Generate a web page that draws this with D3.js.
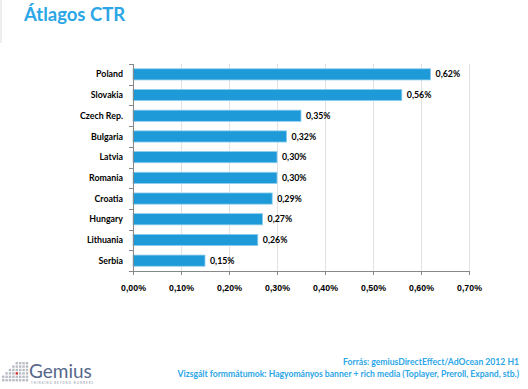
<!DOCTYPE html>
<html>
<head>
<meta charset="utf-8">
<script src="https://cdn.jsdelivr.net/npm/d3@7"></script>
<style>
  body { margin: 0; background: #fff; }
  svg { font-family: Lato, "Open Sans", sans-serif; }
  .axis path, .axis line { stroke: #888; shape-rendering: crispEdges; }
  .axis text { font-size: 8.8px; font-weight: bold; fill: #000; }
  .grid line { stroke: #e2e2e2; shape-rendering: crispEdges; }
</style>
</head>
<body>
<svg id="chart"></svg>
<script>
var countries = ["Poland", "Slovakia", "Czech Rep.", "Bulgaria", "Latvia", "Romania", "Croatia", "Hungary", "Lithuania", "Serbia"];
var ctr = [0.62, 0.56, 0.35, 0.32, 0.30, 0.30, 0.29, 0.27, 0.26, 0.15];
var xTicks = [0, 0.1, 0.2, 0.3, 0.4, 0.5, 0.6, 0.7];
var footnotes = ["Forrás: gemiusDirectEffect/AdOcean 2012 H1",
                 "Vizsgált formmátumok: Hagyományos banner + rich media (Toplayer, Preroll, Expand, stb.)"];

var width = 528, height = 389;
var margin = { top: 64, left: 133, right: 59, bottom: 118 };
var fmt = function(v) { return d3.format(".2f")(v).replace(".", ",") + "%"; };

var svg = d3.select("#chart").attr("width", width).attr("height", height);

// faint page edge
svg.append("line").attr("x1", 1).attr("x2", 1).attr("y1", 0).attr("y2", 43)
    .attr("stroke", "#eee").attr("stroke-width", 2);

svg.append("text")
    .attr("x", 24).attr("y", 21)
    .attr("font-size", 18.5).attr("font-weight", "bold")
    .attr("fill", "#2ba6e6")
    .text("Átlagos CTR");

var x = d3.scaleLinear().domain([0, 0.7]).range([margin.left, width - margin.right]);
var y = d3.scaleBand().domain(countries)
    .range([margin.top, height - margin.bottom])
    .paddingInner(0.46).paddingOuter(0.23);

// gridlines
svg.append("g").attr("class", "grid")
  .selectAll("line").data(xTicks.slice(1))
  .enter().append("line")
    .attr("x1", function(d) { return Math.round(x(d)) + 0.5; })
    .attr("x2", function(d) { return Math.round(x(d)) + 0.5; })
    .attr("y1", margin.top).attr("y2", height - margin.bottom);

var data = countries.map(function(c, i) { return { name: c, value: ctr[i] }; });

svg.append("g").selectAll("rect").data(data)
  .enter().append("rect")
    .attr("x", x(0))
    .attr("y", function(d) { return y(d.name); })
    .attr("width", function(d) { return x(d.value) - x(0); })
    .attr("height", y.bandwidth())
    .attr("fill", "#1e9ad8")
    .attr("stroke", "#8fcdee").attr("stroke-width", 0.8);

svg.append("g").selectAll("text").data(data)
  .enter().append("text")
    .attr("x", function(d) { return x(d.value) + 5; })
    .attr("y", function(d) { return y(d.name) + y.bandwidth() / 2; })
    .attr("dy", "0.35em")
    .attr("font-size", 8.8).attr("font-weight", "bold")
    .text(function(d) { return fmt(d.value); });

// x axis
svg.append("g").attr("class", "axis")
    .attr("transform", "translate(0," + (height - margin.bottom) + ")")
    .call(d3.axisBottom(x).tickValues(xTicks).tickFormat(fmt).tickSize(4).tickPadding(10));

// y axis: tick marks between categories
var yAxis = svg.append("g").attr("class", "axis")
    .attr("transform", "translate(" + margin.left + ",0)");
yAxis.append("line")
    .attr("x1", 0).attr("x2", 0)
    .attr("y1", margin.top).attr("y2", height - margin.bottom);
yAxis.selectAll(".sep").data(d3.range(countries.length + 1))
  .enter().append("line")
    .attr("x1", -4).attr("x2", 0)
    .attr("y1", function(i) { return Math.round(margin.top + i * y.step()) + 0.5; })
    .attr("y2", function(i) { return Math.round(margin.top + i * y.step()) + 0.5; });
yAxis.selectAll("text").data(countries)
  .enter().append("text")
    .attr("x", -10)
    .attr("y", function(d) { return y(d) + y.bandwidth() / 2; })
    .attr("dy", "0.35em")
    .attr("text-anchor", "end")
    .text(function(d) { return d; });

// footnotes
svg.append("g").selectAll("text").data(footnotes)
  .enter().append("text")
    .attr("x", 519)
    .attr("y", function(d, i) { return 365 + i * 12; })
    .attr("text-anchor", "end")
    .attr("font-size", 8.6).attr("font-weight", "bold")
    .attr("fill", "#2ba6e6")
    .text(function(d) { return d; });

// Gemius logo
var logo = svg.append("g").attr("transform", "translate(2,360)");
d3.range(8).forEach(function(c) {
  var n = Math.min(c + 2, 6);
  d3.range(n).forEach(function(r) {
    logo.append("rect")
        .attr("x", c * 3.4).attr("y", 19 - r * 3.4)
        .attr("width", 2.4).attr("height", 2.4)
        .attr("fill", (c === 4 && r === 2) ? "#d9342b" : "#b8bcc4");
  });
});
logo.append("text")
    .attr("x", 27).attr("y", 18)
    .attr("font-size", 19).attr("fill", "#56678a")
    .text("Gemius");
logo.append("text")
    .attr("x", 29).attr("y", 24)
    .attr("font-size", 2.8).attr("fill", "#8a93a8")
    .attr("letter-spacing", 1)
    .text("THINKING BEYOND NUMBERS");
</script>
</body>
</html>
